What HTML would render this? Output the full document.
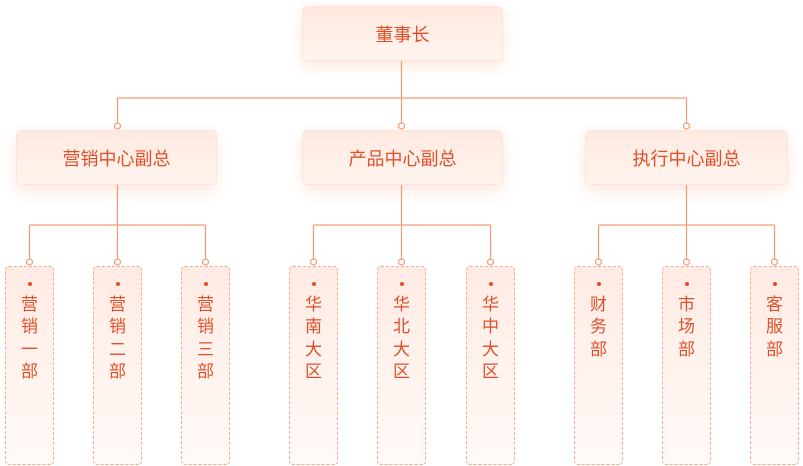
<!DOCTYPE html>
<html><head><meta charset="utf-8"><style>
body{margin:0;width:803px;height:466px;background:#fff;position:relative;overflow:hidden;font-family:"Liberation Sans","Noto Sans CJK SC",sans-serif;color:#df5028}
.b{position:absolute;height:55px;border-radius:5px;background:linear-gradient(180deg,#ffe9e0,#fff4ef);box-shadow:0 6px 14px rgba(255,150,110,0.22);border:1px solid #ffe3d8;box-sizing:border-box;display:flex;align-items:center;justify-content:center;font-size:18px}
.l{position:absolute;top:266px;width:49px;height:199px;box-sizing:border-box;border:1px dashed #f7ad8f;border-radius:4px;background:linear-gradient(180deg,#ffebe3,#fffaf8);text-align:center;font-size:17px;line-height:22.3px}
.l i{display:block;width:4px;height:4px;border-radius:50%;background:#df5028;margin:15px auto 8px}
svg{position:absolute;left:0;top:0}
</style></head><body>
<svg width="803" height="466">
<g stroke="#f59a73" stroke-width="1.2" fill="none">
<path d="M401.5 61V98M117.5 98H686.5M117.5 98V123M401.5 98V123M686.5 98V123"/>
<path d="M117.5 185V225M29.5 225H205.5M29.5 225V259M117.5 225V259M205.5 225V259"/>
<path d="M401.5 185V225M313.5 225H490.5M313.5 225V259M401.5 225V259M490.5 225V259"/>
<path d="M686.5 185V225M598.5 225H774.5M598.5 225V259M686.5 225V259M774.5 225V259"/>
</g>
<g stroke="#f59a73" stroke-width="1.2" fill="#fff">
<circle cx="117.5" cy="126" r="3"/><circle cx="401.5" cy="126" r="3"/><circle cx="686.5" cy="126" r="3"/>
<circle cx="29.5" cy="262" r="3"/><circle cx="117.5" cy="262" r="3"/><circle cx="205.5" cy="262" r="3"/>
<circle cx="313.5" cy="262" r="3"/><circle cx="401.5" cy="262" r="3"/><circle cx="490.5" cy="262" r="3"/>
<circle cx="598.5" cy="262" r="3"/><circle cx="686.5" cy="262" r="3"/><circle cx="774.5" cy="262" r="3"/>
</g>
</svg>
<div class="b" style="left:302px;top:6px;width:201px">董事长</div>
<div class="b" style="left:16px;top:130px;width:201px">营销中心副总</div>
<div class="b" style="left:302px;top:130px;width:201px">产品中心副总</div>
<div class="b" style="left:585px;top:130px;width:203px">执行中心副总</div>
<div class="l" style="left:5px"><i></i>营<br>销<br>一<br>部</div>
<div class="l" style="left:93px"><i></i>营<br>销<br>二<br>部</div>
<div class="l" style="left:181px"><i></i>营<br>销<br>三<br>部</div>
<div class="l" style="left:289px"><i></i>华<br>南<br>大<br>区</div>
<div class="l" style="left:377px"><i></i>华<br>北<br>大<br>区</div>
<div class="l" style="left:466px"><i></i>华<br>中<br>大<br>区</div>
<div class="l" style="left:574px"><i></i>财<br>务<br>部</div>
<div class="l" style="left:662px"><i></i>市<br>场<br>部</div>
<div class="l" style="left:750px"><i></i>客<br>服<br>部</div>
</body></html>
